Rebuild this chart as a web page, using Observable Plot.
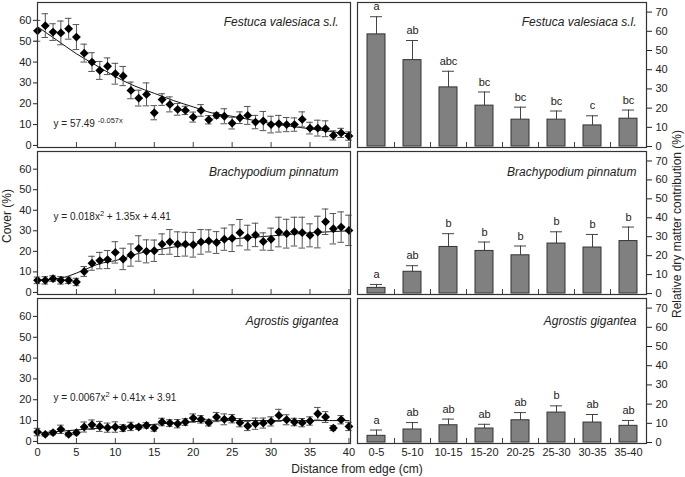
<!DOCTYPE html>
<html><head><meta charset="utf-8">
<script src="https://cdn.jsdelivr.net/npm/d3@7"></script>
<script src="https://cdn.jsdelivr.net/npm/@observablehq/plot@0.6"></script>
<style>
body{margin:0;background:#fff;font-family:"Liberation Sans",Arial,sans-serif}
#chart{position:relative;width:685px;height:477px;overflow:hidden}
#chart svg{position:absolute;overflow:visible}
</style></head><body><div id="chart"></div>
<script>
// ---------- data ----------
const distance = [0,1,2,3,4,5,6,7,8,9,10,11,12,13,14,15,16,17,18,19,20,21,22,23,24,25,26,27,28,29,30,31,32,33,34,35,36,37,38,39,40];
const distanceTicks = [0,5,10,15,20,25,30,35,40];

const festucaCover = [55,57.5,54.4,54,56,52,44.3,40,36,38,34.4,33.3,26.4,22.7,24.5,15.7,22,19.7,17.3,16.8,13.6,16.8,12.3,14.4,14,10.7,13.3,14.4,11.2,11.7,10,10.4,10,10,12.5,8.3,8.3,8,4.8,6,4.5];
const festucaCoverErr = [5,5.7,4,5.7,5,6,4.3,4.5,4.3,4,5,4.6,4,3.8,5.5,3.4,2.8,3.6,2.8,2,2.4,2.8,2,1.3,3.6,2.8,2.8,4.3,3.2,4.6,4,4,3.4,3.2,3.6,2.8,3.8,3.8,2.2,2.2,2];
const festucaFitX = [0,2.5,5,7.5,10,12.5,15,17.5,20,22.5,25,30,35,40];
const festucaFitY = [57,50.5,44,38.5,33,28.5,25,21.5,18.5,15.5,14,10.5,8,5.5];

const brachyCover = [5.9,5.9,6.7,5.9,5.9,5.1,10.2,14.2,15.5,16,19.5,16.3,18.2,21.4,20,20.3,23.5,24.6,23.5,23.5,23.2,24.6,25.1,24.3,25.9,26.4,29.1,26.7,28,24.8,25.9,29.4,28.6,29.6,29.1,27.8,29.4,34.4,31,31.8,30.2];
const brachyCoverErr = [1.6,1.8,1.4,1.8,1.6,1.8,2.4,3.4,4,4.4,5.2,5.2,5.4,6.2,5.6,5.2,5,6,6,5.8,6,6,5.4,5.3,5.4,6.5,6.4,6,5.7,4.2,5.4,7.2,7,7,7.5,5.6,7.7,6.2,7.4,7.4,7.4];
const brachyFitX = [0,3,4,6,8,10,13,15,20,25,30,35,40];
const brachyFitY = [6,7,8,11,14,15.5,19,20.5,23.5,26,27.5,29,30];

const agrostisCover = [4.5,3.4,4.2,5.8,3.4,4.2,6.9,8,7.2,6.6,6.9,6.4,7.2,6.9,7.7,6.4,9.3,8.8,8.5,9.3,11.2,10.6,9,11.7,10.6,10.9,9,7.4,8.5,8.8,9.6,12.5,10.4,9.3,9,9.8,13.3,11.7,6.4,10.4,7.2];
const agrostisCoverErr = [1.8,0.8,1,2,0.8,1,2.4,2.3,2.4,2.2,2.5,1.6,2,1.1,1.3,1.5,1.8,1.6,2,1.6,2,1.8,1.6,2.2,2.6,2,2,2.2,2.7,2.4,2.2,2.9,2.4,1.8,2,2,3,2.6,1.2,2,2];
const agrostisFitX = [0,5,10,15,20,25,30,35,40];
const agrostisFitY = [4,5.5,7,8.2,9.5,10,10,10,10];

const ranges = ["0-5","5-10","10-15","15-20","20-25","25-30","30-35","35-40"];
const festucaDM = [58.4,45,30.8,21.3,14,14,11,14.5];
const festucaDMse = [9.2,10.2,8.4,7.1,6.5,4.5,5,4.5];
const festucaLetters = ["a","ab","abc","bc","bc","bc","c","bc"];
const brachyDM = [3,11.5,24.6,22.5,20.2,26.4,24.3,27.7];
const brachyDMse = [1.8,3.2,7,4.7,4.9,6.2,6.9,7.4];
const brachyLetters = ["a","ab","b","b","b","b","b","b"];
const agrostisDM = [3.5,6.8,9,7.3,11.6,15.6,10.4,8.7];
const agrostisDMse = [3,3.6,3.2,2.2,4,3.5,4.2,2.8];
const agrostisLetters = ["a","ab","ab","ab","ab","b","ab","ab"];

const species = ["Festuca valesiaca s.l.","Brachypodium pinnatum","Agrostis gigantea"];
const equations = [
  [["y = 57.49 ",0],["-0.057x",1]],
  [["y = 0.018x",0],["2",1],[" + 1.35x + 4.41",0]],
  [["y = 0.0067x",0],["2",1],[" + 0.41x + 3.91",0]]
];
const yLabel = "Cover (%)";
const y2Label = "Relative dry matter contribution (%)";
const xLabel = "Distance from edge (cm)";

// ---------- layout ----------
const FONT = "'Liberation Sans', Arial, Helvetica, sans-serif";
const rows = [
  {top:2, bottom:147, eqDy:121, nameDy:20},
  {top:151, bottom:294, eqDy:65, nameDy:21},
  {top:298, bottom:443, eqDy:99, nameDy:23}
];
const leftData = [
  {mean:festucaCover, err:festucaCoverErr, fitX:festucaFitX, fitY:festucaFitY},
  {mean:brachyCover, err:brachyCoverErr, fitX:brachyFitX, fitY:brachyFitY},
  {mean:agrostisCover, err:agrostisCoverErr, fitX:agrostisFitX, fitY:agrostisFitY}
];
const rightData = [
  {mean:festucaDM, se:festucaDMse, letters:festucaLetters},
  {mean:brachyDM, se:brachyDMse, letters:brachyLetters},
  {mean:agrostisDM, se:agrostisDMse, letters:agrostisLetters}
];
const chart = document.getElementById("chart");
const baseStyle = {fontFamily: FONT, fontSize: "11px", background: "transparent", color: "#222", overflow: "visible"};

function supify(svg, parts) {
  const plain = parts.map(p => p[0]).join("");
  const el = [...svg.querySelectorAll("text")].find(t => t.textContent === plain);
  if (!el) return;
  el.textContent = "";
  let prevSup = false;
  for (const [s, sup] of parts) {
    const ts = document.createElementNS("http://www.w3.org/2000/svg", "tspan");
    ts.textContent = s;
    if (sup) { ts.setAttribute("font-size", "7.5"); ts.setAttribute("dy", "-4"); }
    else if (prevSup) { ts.setAttribute("dy", "4"); }
    prevSup = !!sup;
    el.appendChild(ts);
  }
}

rows.forEach((row, i) => {
  const last = i === rows.length - 1;
  const mt = 2, mb = last ? 22 : 2;
  const h = row.bottom - row.top + mt + mb;
  // ---- left panel ----
  const L = leftData[i];
  const pts = distance.map((x, k) => ({x, y: L.mean[k], e: L.err[k]}));
  const fit = L.fitX.map((x, k) => ({x, y: L.fitY[k]}));
  const yDom = [-1, 68.6];
  const tl = 5 * (yDom[1] - yDom[0]) / (row.bottom - row.top);
  const left = Plot.plot({
    width: 352, height: h, marginLeft: 37, marginRight: 2, marginTop: mt, marginBottom: mb,
    style: baseStyle,
    x: {domain: [0, 40.2], axis: last ? "bottom" : null, ticks: 8, tickSize: 0, tickPadding: 5, label: null},
    y: {domain: yDom, ticks: 7, tickSize: 4, tickPadding: 2, label: null},
    marks: [
      Plot.ruleX(distanceTicks, {x: d => d, y1: yDom[0], y2: yDom[0] + tl, stroke: "#444"}),
      Plot.line(fit, {x: "x", y: "y", curve: "monotone-x", stroke: "#111", strokeWidth: 1}),
      Plot.ruleX(pts, {x: "x", y1: d => d.y - d.e, y2: d => d.y + d.e, stroke: "#555", strokeWidth: 1}),
      Plot.ruleY(pts, {y: d => d.y + d.e, x1: d => d.x - 0.42, x2: d => d.x + 0.42, stroke: "#555", strokeWidth: 1}),
      Plot.ruleY(pts, {y: d => d.y - d.e, x1: d => d.x - 0.42, x2: d => d.x + 0.42, stroke: "#555", strokeWidth: 1}),
      Plot.dot(pts, {x: "x", y: "y", symbol: "diamond2", r: 4, fill: "#000", stroke: "none"}),
      Plot.text([species[i]], {frameAnchor: "top-right", dx: -12, dy: row.nameDy, lineAnchor: "middle", fontStyle: "italic", fontSize: 12, fill: "#222"}),
      Plot.text([equations[i].map(p => p[0]).join("")], {frameAnchor: "top-left", dx: 16, dy: row.eqDy, lineAnchor: "middle", textAnchor: "start", fontSize: 10, fill: "#222"}),
      Plot.frame({stroke: "#333", strokeWidth: 1.2})
    ]
  });
  left.style.left = "0px";
  left.style.top = (row.top - mt) + "px";
  supify(left, equations[i]);
  chart.appendChild(left);

  // ---- right panel ----
  const R = rightData[i];
  const bars = ranges.map((r, k) => ({r, m: R.mean[k], se: R.se[k], l: R.letters[k]}));
  const yDomR = [-0.5, 75];
  const tlR = 5 * (yDomR[1] - yDomR[0]) / (row.bottom - row.top);
  const right = Plot.plot({
    width: 330, height: h, marginLeft: 2, marginRight: 39, marginTop: mt, marginBottom: mb,
    style: baseStyle,
    x: {domain: ranges, paddingInner: 0.5, paddingOuter: 0.25, axis: last ? "bottom" : null, tickSize: 0, tickPadding: 5, label: null},
    y: {domain: yDomR, axis: "right", ticks: 8, tickSize: 5, tickPadding: 4, label: null},
    marks: [
      Plot.ruleX(ranges.slice(1), {x: d => d, dx: -18, y1: yDomR[0], y2: yDomR[0] + tlR, stroke: "#444"}),
      Plot.ruleX(bars, {x: "r", y1: "m", y2: d => d.m + d.se, stroke: "#444", strokeWidth: 1}),
      Plot.tickY(bars, {x: "r", y: d => d.m + d.se, insetLeft: 15, insetRight: 15, stroke: "#444", strokeWidth: 1}),
      Plot.barY(bars, {x: "r", y: "m", fill: "#808080", stroke: "#333", strokeWidth: 1}),
      Plot.text(bars, {x: "r", y: d => d.m + d.se, text: "l", dy: -10, fontSize: 11, fill: "#222"}),
      Plot.text([species[i]], {frameAnchor: "top-right", dx: -10, dy: row.nameDy, lineAnchor: "middle", fontStyle: "italic", fontSize: 12, fill: "#222"}),
      Plot.frame({stroke: "#333", strokeWidth: 1.2})
    ]
  });
  right.style.left = "355px";
  right.style.top = (row.top - mt) + "px";
  chart.appendChild(right);
});

// ---------- axis titles ----------
const over = d3.select(chart).append("svg")
  .attr("width", 685).attr("height", 477)
  .style("left", "0px").style("top", "0px")
  .attr("font-family", FONT).attr("font-size", 12).attr("fill", "#222");
over.append("text").attr("transform", "translate(8,216) rotate(-90)")
  .attr("text-anchor", "middle").attr("dominant-baseline", "middle").text(yLabel);
over.append("text").attr("transform", "translate(678,224) rotate(-90)")
  .attr("text-anchor", "middle").attr("dominant-baseline", "middle").text(y2Label);
over.append("text").attr("x", 357).attr("y", 470)
  .attr("text-anchor", "middle").attr("dominant-baseline", "middle").text(xLabel);
</script>
</body></html>
